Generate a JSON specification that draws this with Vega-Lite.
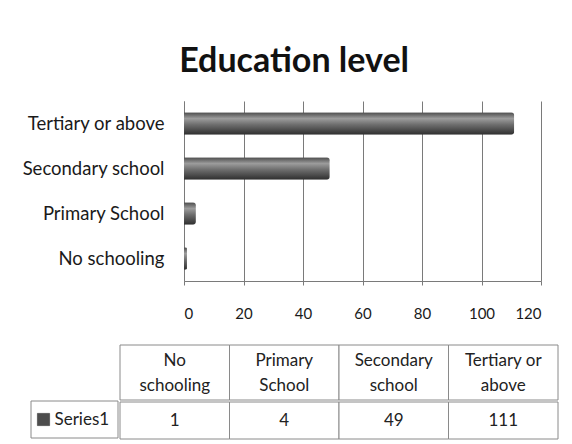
{
  "$schema": "https://vega.github.io/schema/vega-lite/v6.json",
  "padding": {"left": 21, "top": 45, "right": 5, "bottom": 5},
  "background": "white",
  "title": {"text": "Education level", "font": "Lato", "fontSize": 34, "fontWeight": "bold", "color": "#111111", "anchor": "middle", "offset": 22, "dx": 4},
  "config": {"view": {"stroke": null}, "font": "Lato"},
  "datasets": {
    "edu": [
      {"level": "No schooling", "header": "No\nschooling", "value": 1},
      {"level": "Primary School", "header": "Primary\nSchool", "value": 4},
      {"level": "Secondary school", "header": "Secondary\nschool", "value": 49},
      {"level": "Tertiary or above", "header": "Tertiary or\nabove", "value": 111}
    ]
  },
  "spacing": 23,
  "vconcat": [
    {
      "spacing": 0,
      "bounds": "flush",
      "hconcat": [
        {
          "width": 153,
          "height": 180,
          "data": {"name": "edu"},
          "mark": {"type": "text"},
          "encoding": {
            "text": {"value": ""},
            "y": {
              "field": "level", "type": "nominal",
              "sort": ["Tertiary or above", "Secondary school", "Primary School", "No schooling"],
              "scale": {"paddingInner": 0.5, "paddingOuter": 0.25},
              "axis": {"orient": "right", "title": null, "ticks": false, "tickSize": 0, "domain": false, "labelAlign": "right", "labelPadding": -20, "labelFontSize": 18.5, "labelColor": "#1a1a1a", "labelFont": "Lato"}
            }
          }
        },
        {
          "width": 357,
          "height": 180,
          "data": {"name": "edu"},
          "mark": {
            "type": "bar",
            "cornerRadiusEnd": 3,
            "fill": {"gradient": "linear", "x1": 0, "y1": 0, "x2": 0, "y2": 1,
              "stops": [
                {"offset": 0, "color": "#4a4a4a"},
                {"offset": 0.28, "color": "#9c9c9c"},
                {"offset": 0.55, "color": "#6e6e6e"},
                {"offset": 1, "color": "#2e2e2e"}
              ]}
          },
          "encoding": {
            "y": {
              "field": "level", "type": "nominal",
              "sort": ["Tertiary or above", "Secondary school", "Primary School", "No schooling"],
              "scale": {"paddingInner": 0.5, "paddingOuter": 0.25},
              "axis": {"title": null, "ticks": false, "labels": false, "domainColor": "#7a7a7a"}
            },
            "x": {
              "field": "value", "type": "quantitative",
              "scale": {"domain": [0, 120]},
              "axis": {"title": null, "values": [0, 20, 40, 60, 80, 100, 120], "grid": true, "gridColor": "#7a7a7a", "tickSize": 4, "tickColor": "#7a7a7a", "labelPadding": 21, "labelFontSize": 15, "labelFont": "Lato", "domainColor": "#7a7a7a", "labelColor": "#1a1a1a"}
            }
          }
        }
      ]
    },
    {
      "spacing": 0,
      "hconcat": [
        {
          "spacing": 0,
          "vconcat": [
            {
              "width": 87, "height": 55,
              "data": {"values": [{}]},
              "mark": {"type": "text"},
              "encoding": {"text": {"value": ""}}
            },
            {
              "width": 87, "height": 37,
              "data": {"values": [{"series": "Series1"}]},
              "encoding": {"x": {"field": "series", "type": "nominal", "axis": null, "scale": {"paddingInner": 0, "paddingOuter": 0}}},
              "layer": [
                {"mark": {"type": "rect", "fill": "white", "stroke": "#8a8a8a", "strokeWidth": 1}},
                {"mark": {"type": "square", "size": 150, "xOffset": -31, "opacity": 1, "fill": "#4d4d4d", "stroke": "#2e2e2e", "strokeWidth": 0.5}},
                {"mark": {"type": "text", "align": "left", "dx": -20, "fontSize": 17, "color": "#222222"}, "encoding": {"text": {"field": "series"}}}
              ]
            }
          ]
        },
        {
          "spacing": 0,
          "vconcat": [
            {
              "width": 438, "height": 55,
              "data": {"name": "edu"},
              "encoding": {"x": {"field": "level", "type": "nominal", "sort": ["No schooling", "Primary School", "Secondary school", "Tertiary or above"], "axis": null, "scale": {"paddingInner": 0, "paddingOuter": 0}}},
              "layer": [
                {"mark": {"type": "rect", "fill": "white", "stroke": "#8a8a8a", "strokeWidth": 1}},
                {"mark": {"type": "text", "fontSize": 17, "lineHeight": 25, "lineBreak": "\n", "dy": -12, "color": "#222222"}, "encoding": {"text": {"field": "header"}}}
              ]
            },
            {
              "width": 438, "height": 37,
              "data": {"name": "edu"},
              "encoding": {"x": {"field": "level", "type": "nominal", "sort": ["No schooling", "Primary School", "Secondary school", "Tertiary or above"], "axis": null, "scale": {"paddingInner": 0, "paddingOuter": 0}}},
              "layer": [
                {"mark": {"type": "rect", "fill": "white", "stroke": "#8a8a8a", "strokeWidth": 1}},
                {"mark": {"type": "text", "fontSize": 17, "color": "#222222"}, "encoding": {"text": {"field": "value"}}}
              ]
            }
          ]
        }
      ]
    }
  ]
}
